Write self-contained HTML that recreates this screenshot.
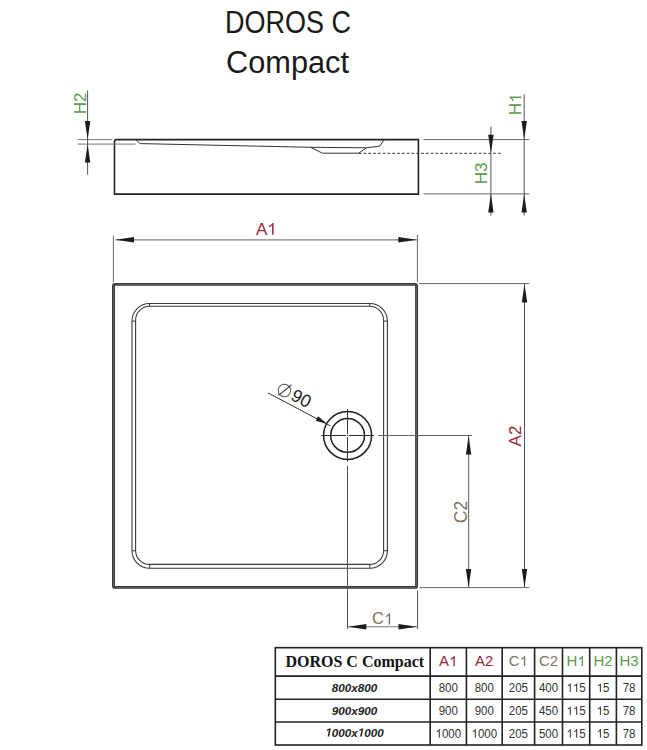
<!DOCTYPE html>
<html>
<head>
<meta charset="utf-8">
<style>
html,body{margin:0;padding:0;background:#fff;}
body{width:647px;height:750px;overflow:hidden;position:relative;}
svg{position:absolute;left:0;top:0;}
text{font-family:"Liberation Sans",sans-serif;}
.o1{fill-opacity:0;}
</style>
</head>
<body>
<svg width="647" height="750" viewBox="0 0 647 750">
<defs>
  <!-- arrow pointing +x, tip at origin -->
  <path id="ar" d="M0,0 L-18.5,-2.7 L-18.5,2.7 Z" fill="#1c1c1c"/>
  <path id="g1" d="M763,0 L583,0 L583,1098 Q518,1038 412.5,979 Q307,920 223,890 L223,1057 Q374,1125 487,1221 Q600,1318 647,1409 L763,1409 Z"/>
  <path id="g1bi" d="M420,0 L644,1152 L263,938 L310,1180 L706,1409 L976,1409 L701,0 Z"/>
  <path id="ars" d="M0,0 L-11.6,-2.5 L-11.6,2.5 Z" fill="#1c1c1c"/>
</defs>

<!-- Title -->
<text x="288.1" y="32.5" text-anchor="middle" font-size="31" fill="#1a1a1a" textLength="126" lengthAdjust="spacingAndGlyphs">DOROS C</text>
<text x="287.5" y="73.2" text-anchor="middle" font-size="31" fill="#1a1a1a" textLength="123" lengthAdjust="spacingAndGlyphs">Compact</text>

<!-- ===== Side view ===== -->
<g fill="none" stroke-linecap="butt">
  <path d="M114.5,194.1 V141.4 Q114.5,139.6 116.3,139.6 H418.4 V194.1 Z" stroke="#222" stroke-width="1.6"/>
  <path d="M136.3,139.8 Q138.6,143.5 140.6,143.6 L310.8,147.3 L366.5,147.8 L379.6,146.2 L384.2,139.8" stroke="#333" stroke-width="1"/>
  <path d="M310.8,147.3 L322.4,153.2 L358.7,153.2 L366.5,147.8" stroke="#333" stroke-width="1"/>
  <path d="M358.7,153.3 H501.3" stroke="#333" stroke-width="1" stroke-dasharray="2.8,2"/>
  <!-- H2 ext -->
  <path d="M78,139.6 H112 M78,144.1 H135.6" stroke="#777" stroke-width="1"/>
  <!-- H2 dim -->
  <path d="M87.6,90.5 V174.5" stroke="#555" stroke-width="1"/>
  <!-- right ext lines -->
  <path d="M423.4,139.6 H529.4 M423.4,193.9 H529.4" stroke="#666" stroke-width="1"/>
  <!-- H3 dim -->
  <path d="M490.9,126.4 V215.5" stroke="#555" stroke-width="1"/>
  <!-- H1 dim -->
  <path d="M524.2,94.3 V215.5" stroke="#555" stroke-width="1"/>
</g>
<use href="#ar" transform="translate(87.6,139.6) rotate(90)"/>
<use href="#ar" transform="translate(87.6,144.1) rotate(-90)"/>
<use href="#ar" transform="translate(490.9,153.3) rotate(90)"/>
<use href="#ar" transform="translate(490.9,193.9) rotate(-90)"/>
<use href="#ar" transform="translate(524.2,139.6) rotate(90)"/>
<use href="#ar" transform="translate(524.2,193.9) rotate(-90)"/>

<text transform="translate(85.6,103.3) rotate(-90)" text-anchor="middle" font-size="17" fill="#5a9c4c">H2</text>
<text transform="translate(521.2,104.3) rotate(-90)" text-anchor="middle" font-size="17" fill="#5a9c4c">H<tspan class="o1">1</tspan></text>
<text transform="translate(487,173.3) rotate(-90)" text-anchor="middle" font-size="17" fill="#5a9c4c">H3</text>

<!-- ===== Plan view ===== -->
<g fill="none">
  <rect x="113.5" y="284.4" width="303.1" height="303" stroke="#333" stroke-width="2.9" rx="1.5"/>
  <rect x="113.5" y="284.4" width="303.1" height="303" stroke="#6a6a6a" stroke-width="0.8" rx="1.5"/>
  <rect x="132" y="303.5" width="255.4" height="264.8" rx="17.6" stroke="#3a3a3a" stroke-width="1.1"/>
  <rect x="135.6" y="306.3" width="248" height="258.1" rx="14" stroke="#3a3a3a" stroke-width="1.1"/>
  <!-- tangent ticks -->
  <path d="M149.6,303.5 V306.3 M132,321.1 H135.6 M369.8,303.5 V306.3 M383.6,321.1 H387.4 M149.6,564.4 V568.3 M132,550.7 H135.6 M369.8,564.4 V568.3 M383.6,550.7 H387.4" stroke="#3a3a3a" stroke-width="1"/>

  <!-- A1 ext + dim -->
  <path d="M113.4,236 V282 M417.4,235 V282" stroke="#666" stroke-width="1"/>
  <path d="M115.5,239.8 H416.8" stroke="#808080" stroke-width="1.3"/>
  <!-- A2 ext + dim -->
  <path d="M419,283.6 H529.4 M419.4,587.6 H529.4" stroke="#666" stroke-width="1"/>
  <path d="M524.5,283.9 V587.6" stroke="#555" stroke-width="1"/>
  <!-- C2 ext + dim -->
  <path d="M378.3,435.5 H472" stroke="#666" stroke-width="1"/>
  <path d="M468.6,436 V587.6" stroke="#777" stroke-width="1.2"/>
  <!-- C1 ext + dim -->
  <path d="M347.5,465.6 V629 M417.6,590.6 V629" stroke="#555" stroke-width="1"/>
  <path d="M347.9,626.8 H417" stroke="#777" stroke-width="1"/>

  <!-- drain -->
  <circle cx="347.6" cy="435.4" r="24" stroke="#1e1e1e" stroke-width="1.5"/>
  <circle cx="347.6" cy="435.4" r="16.9" stroke="#1e1e1e" stroke-width="1.5"/>
  <path d="M321.3,435.5 H345.9 M347,435.5 H348.1 M349.2,435.5 H374 M347.5,409.2 V433.8 M347.5,434.9 V436.1 M347.5,437.2 V461.7" stroke="#333" stroke-width="1"/>
  <!-- leader -->
  <path d="M268,392.9 L330.6,426" stroke="#333" stroke-width="1"/>
</g>
<use href="#ar" transform="translate(115.5,239.8) rotate(180)"/>
<use href="#ar" transform="translate(416.8,239.8)"/>
<use href="#ar" transform="translate(524.5,283.9) rotate(-90)"/>
<use href="#ar" transform="translate(524.5,587.6) rotate(90)"/>
<use href="#ar" transform="translate(468.6,436) rotate(-90)"/>
<use href="#ar" transform="translate(468.6,587.6) rotate(90)"/>
<use href="#ar" transform="translate(347.9,626.8) rotate(180)"/>
<use href="#ar" transform="translate(417,626.8)"/>
<use href="#ars" transform="translate(327.2,424) rotate(27.9)"/>

<text x="266.3" y="234.7" text-anchor="middle" font-size="17" fill="#962838">A<tspan class="o1">1</tspan></text>
<text transform="translate(521,436) rotate(-90)" text-anchor="middle" font-size="17" fill="#962838">A2</text>
<text transform="translate(466.8,512) rotate(-90)" text-anchor="middle" font-size="17.5" fill="#857260">C2</text>
<text x="382.6" y="624.4" text-anchor="middle" font-size="16.5" fill="#857260">C<tspan class="o1">1</tspan></text>
<g transform="translate(268,392.9) rotate(27.9)">
  <circle cx="13.4" cy="-9.8" r="6.2" fill="none" stroke="#555" stroke-width="1"/>
  <path d="M10.45,-2.7 L17,-18.1" stroke="#222" stroke-width="1" fill="none"/>
  <text x="32" y="-4.6" text-anchor="middle" font-size="17.8" fill="#222">90</text>
</g>

<!-- ===== Table ===== -->
<g fill="none" stroke="#222" stroke-width="1.6">
  <rect x="275.3" y="647.7" width="366.5" height="97.3"/>
  <path d="M275.3,676.1 H641.8 M275.3,699.2 H641.8 M275.3,722 H641.8"/>
  <path d="M430.2,647.7 V745 M466.4,647.7 V745 M502.2,647.7 V745 M534.6,647.7 V745 M562.5,647.7 V745 M589.7,647.7 V745 M616.4,647.7 V745"/>
</g>
<text x="354.8" y="667.4" text-anchor="middle" font-size="16" font-weight="bold" fill="#111" style="font-family:'Liberation Serif',serif">DOROS C Compact</text>
<g font-size="15" text-anchor="middle">
  <text x="448.3" y="666.3" fill="#962838">A<tspan class="o1">1</tspan></text>
  <text x="484.3" y="666.3" fill="#962838">A2</text>
  <text x="518.4" y="666.3" fill="#857260">C<tspan class="o1">1</tspan></text>
  <text x="548.5" y="666.3" fill="#857260">C2</text>
  <text x="576.1" y="666.3" fill="#5a9c4c">H<tspan class="o1">1</tspan></text>
  <text x="603" y="666.3" fill="#5a9c4c">H2</text>
  <text x="629.1" y="666.3" fill="#5a9c4c">H3</text>
</g>
<g font-size="11.7" font-weight="bold" font-style="italic" text-anchor="middle" fill="#222">
  <text x="354.5" y="691.5">800x800</text>
  <text x="354.5" y="714.6">900x900</text>
  <text x="354.5" y="736.6"><tspan class="o1">1</tspan>000x<tspan class="o1">1</tspan>000</text>
</g>
<g font-size="12.5" text-anchor="middle" fill="#333">
  <text transform="translate(448.3,692) scale(0.92,1)">800</text><text transform="translate(484.3,692) scale(0.92,1)">800</text><text transform="translate(518.4,692) scale(0.92,1)">205</text><text transform="translate(548.5,692) scale(0.92,1)">400</text><text transform="translate(576.1,692) scale(0.92,1)"><tspan class="o1">1</tspan><tspan class="o1">1</tspan>5</text><text transform="translate(603,692) scale(0.92,1)"><tspan class="o1">1</tspan>5</text><text transform="translate(629.1,692) scale(0.92,1)">78</text>
  <text transform="translate(448.3,715) scale(0.92,1)">900</text><text transform="translate(484.3,715) scale(0.92,1)">900</text><text transform="translate(518.4,715) scale(0.92,1)">205</text><text transform="translate(548.5,715) scale(0.92,1)">450</text><text transform="translate(576.1,715) scale(0.92,1)"><tspan class="o1">1</tspan><tspan class="o1">1</tspan>5</text><text transform="translate(603,715) scale(0.92,1)"><tspan class="o1">1</tspan>5</text><text transform="translate(629.1,715) scale(0.92,1)">78</text>
  <text transform="translate(448.3,737.7) scale(0.92,1)"><tspan class="o1">1</tspan>000</text><text transform="translate(484.3,737.7) scale(0.92,1)"><tspan class="o1">1</tspan>000</text><text transform="translate(518.4,737.7) scale(0.92,1)">205</text><text transform="translate(548.5,737.7) scale(0.92,1)">500</text><text transform="translate(576.1,737.7) scale(0.92,1)"><tspan class="o1">1</tspan><tspan class="o1">1</tspan>5</text><text transform="translate(603,737.7) scale(0.92,1)"><tspan class="o1">1</tspan>5</text><text transform="translate(629.1,737.7) scale(0.92,1)">78</text>
</g>
<g id="ones">
<use href="#g1" fill="rgb(90, 156, 76)" transform="translate(521.2,104.3) rotate(-90) translate(1.41,0.00) scale(0.00830,-0.00830)"/>
<use href="#g1" fill="rgb(150, 40, 56)" transform=" translate(267.24,234.70) scale(0.00830,-0.00830)"/>
<use href="#g1" fill="rgb(133, 114, 96)" transform=" translate(383.97,624.40) scale(0.00806,-0.00806)"/>
<use href="#g1" fill="rgb(150, 40, 56)" transform=" translate(449.14,666.30) scale(0.00732,-0.00732)"/>
<use href="#g1" fill="rgb(133, 114, 96)" transform=" translate(519.65,666.30) scale(0.00732,-0.00732)"/>
<use href="#g1" fill="rgb(90, 156, 76)" transform=" translate(577.35,666.30) scale(0.00732,-0.00732)"/>
<use href="#g1bi" fill="rgb(34, 34, 34)" transform=" translate(325.22,736.60) scale(0.00571,-0.00571)"/>
<use href="#g1bi" fill="rgb(34, 34, 34)" transform=" translate(357.75,736.60) scale(0.00571,-0.00571)"/>
<use href="#g1" fill="rgb(51, 51, 51)" transform="translate(576.1,692) scale(0.92,1) translate(-10.44,0.00) scale(0.00610,-0.00610)"/>
<use href="#g1" fill="rgb(51, 51, 51)" transform="translate(576.1,692) scale(0.92,1) translate(-3.48,0.00) scale(0.00610,-0.00610)"/>
<use href="#g1" fill="rgb(51, 51, 51)" transform="translate(603,692) scale(0.92,1) translate(-6.96,0.00) scale(0.00610,-0.00610)"/>
<use href="#g1" fill="rgb(51, 51, 51)" transform="translate(576.1,715) scale(0.92,1) translate(-10.44,0.00) scale(0.00610,-0.00610)"/>
<use href="#g1" fill="rgb(51, 51, 51)" transform="translate(576.1,715) scale(0.92,1) translate(-3.48,0.00) scale(0.00610,-0.00610)"/>
<use href="#g1" fill="rgb(51, 51, 51)" transform="translate(603,715) scale(0.92,1) translate(-6.96,0.00) scale(0.00610,-0.00610)"/>
<use href="#g1" fill="rgb(51, 51, 51)" transform="translate(448.3,737.7) scale(0.92,1) translate(-13.90,0.00) scale(0.00610,-0.00610)"/>
<use href="#g1" fill="rgb(51, 51, 51)" transform="translate(484.3,737.7) scale(0.92,1) translate(-13.90,0.00) scale(0.00610,-0.00610)"/>
<use href="#g1" fill="rgb(51, 51, 51)" transform="translate(576.1,737.7) scale(0.92,1) translate(-10.44,0.00) scale(0.00610,-0.00610)"/>
<use href="#g1" fill="rgb(51, 51, 51)" transform="translate(576.1,737.7) scale(0.92,1) translate(-3.48,0.00) scale(0.00610,-0.00610)"/>
<use href="#g1" fill="rgb(51, 51, 51)" transform="translate(603,737.7) scale(0.92,1) translate(-6.96,0.00) scale(0.00610,-0.00610)"/>
</g>
</svg>
</body>
</html>
